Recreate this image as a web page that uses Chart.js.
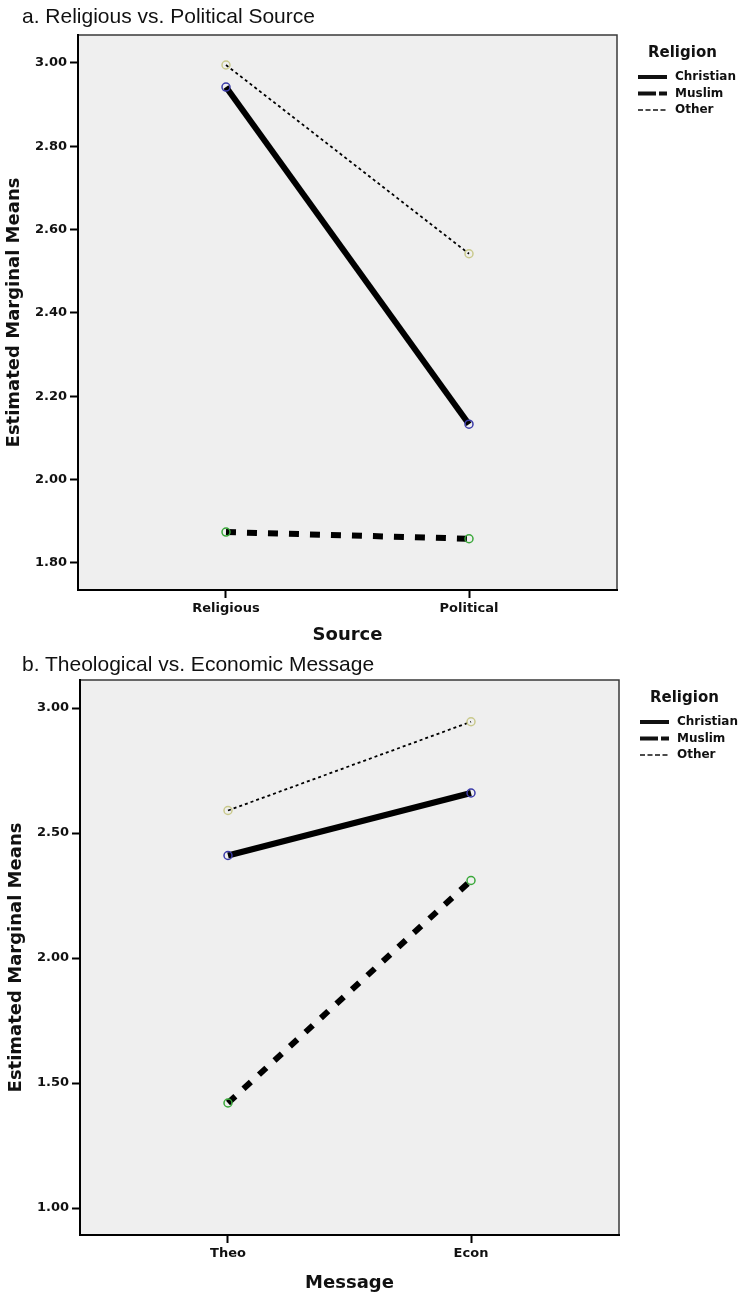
<!DOCTYPE html>
<html>
<head>
<meta charset="utf-8">
<script src="https://cdn.jsdelivr.net/npm/chart.js@4/dist/chart.umd.min.js"></script>
<style>
  body { margin: 0; background: #fff; width: 738px; height: 1297px; position: relative; overflow: hidden; }
  .panel { position: absolute; left: 0; width: 738px; }
  .panel canvas { position: absolute; top: 0; }
  .heading { position: absolute; left: 22px; font-family: "Liberation Sans", Arial, sans-serif; font-size: 21px; color: #111; white-space: nowrap; }
</style>
</head>
<body>
<div class="panel" style="top:0;height:645px">
  <canvas id="chartSource" width="738" height="645" style="left:0"></canvas>
  <div class="heading" style="top:4px">a. Religious vs. Political Source</div>
</div>
<div class="panel" style="top:645px;height:652px">
  <canvas id="chartMessage" width="738" height="652" style="left:2px"></canvas>
  <div class="heading" style="top:7px">b. Theological vs. Economic Message</div>
</div>
<script>
var religions = ["Christian", "Muslim", "Other"];

var sourceCategories = ["Religious", "Political"];
var sourceChristian = [2.942, 2.133];
var sourceMuslim = [1.874, 1.858];
var sourceOther = [2.995, 2.542];
var sourceTicks = [1.8, 2.0, 2.2, 2.4, 2.6, 2.8, 3.0];

var messageCategories = ["Theo", "Econ"];
var messageChristian = [2.41, 2.66];
var messageMuslim = [1.42, 2.31];
var messageOther = [2.59, 2.945];
var messageTicks = [1.0, 1.5, 2.0, 2.5, 3.0];

var tickFont = { family: "'DejaVu Sans'", size: 13, weight: "bold" };

// line look per religion (chart line, legend sample, marker colour)
var lineStyles = {
  Christian: { width: 6, dash: [], legendWidth: 4, legendDash: [], point: "#3b3ba8" },
  Muslim: { width: 6, dash: [10, 11], legendWidth: 4, legendDash: [18, 3], point: "#3aa83a" },
  Other: { width: 1.8, dash: [3, 3], legendWidth: 1.5, legendDash: [5, 2.5], point: "#c9c98c" }
};

var framePlugin = {
  id: "plotFrame",
  beforeDraw: function (chart) {
    var a = chart.chartArea;
    var ctx = chart.ctx;
    ctx.save();
    ctx.fillStyle = "#efefef";
    ctx.fillRect(a.left, a.top, a.right - a.left, a.bottom - a.top);
    ctx.strokeStyle = "#3a3a3a";
    ctx.lineWidth = 1.5;
    ctx.strokeRect(a.left, a.top, a.right - a.left, a.bottom - a.top);
    ctx.restore();
  }
};

var legendPlugin = {
  id: "religionLegend",
  afterDraw: function (chart) {
    var a = chart.chartArea;
    var ctx = chart.ctx;
    var x0 = a.right + 21;
    ctx.save();
    ctx.fillStyle = "#111";
    ctx.strokeStyle = "#111";
    ctx.textAlign = "left";
    ctx.textBaseline = "middle";
    ctx.font = "bold 15px 'DejaVu Sans'";
    ctx.fillText("Religion", a.right + 31, a.top + 18);
    ctx.font = "bold 12px 'DejaVu Sans'";
    chart.data.datasets.forEach(function (ds, i) {
      var style = lineStyles[ds.label];
      var y = a.top + 42 + i * 16.5;
      ctx.beginPath();
      ctx.setLineDash(style.legendDash);
      ctx.lineWidth = style.legendWidth;
      ctx.moveTo(x0, y);
      ctx.lineTo(x0 + 29, y);
      ctx.stroke();
      ctx.setLineDash([]);
      ctx.fillText(ds.label, a.right + 58, y);
    });
    ctx.restore();
  }
};

function buildDatasets(seriesList) {
  return seriesList.map(function (values, i) {
    var name = religions[i];
    var style = lineStyles[name];
    return {
      label: name,
      data: values.map(function (v, k) { return { x: k, y: v }; }),
      borderColor: "#000",
      borderWidth: style.width,
      borderDash: style.dash,
      borderCapStyle: "butt",
      pointRadius: 4,
      pointBorderWidth: 1.5,
      pointBorderColor: style.point,
      pointBackgroundColor: "rgba(0,0,0,0)",
      fill: false,
      tension: 0
    };
  });
}

function renderChart(canvasId, cfg) {
  new Chart(document.getElementById(canvasId), {
    type: "line",
    data: { datasets: buildDatasets(cfg.series) },
    plugins: [framePlugin, legendPlugin],
    options: {
      responsive: false,
      animation: false,
      layout: { padding: { top: 35, right: 121, bottom: 0, left: 0 } },
      plugins: { legend: { display: false }, tooltip: { enabled: false } },
      scales: {
        x: {
          type: "linear",
          min: -0.609,
          max: cfg.categories.length - 1 + 0.609,
          afterBuildTicks: function (scale) {
            scale.ticks = cfg.categories.map(function (c, i) { return { value: i }; });
          },
          afterFit: function (scale) { scale.height = cfg.xAxisHeight; },
          ticks: {
            font: tickFont,
            color: "#111",
            padding: 3,
            maxRotation: 0,
            callback: function (value) { return cfg.categories[value]; }
          },
          grid: { drawOnChartArea: false, drawTicks: true, tickLength: 8, tickColor: "#000", tickWidth: 2 },
          border: { display: true, color: "#000", width: 2 },
          title: {
            display: true,
            text: cfg.xTitle,
            color: "#111",
            font: { family: "'DejaVu Sans'", size: 18, weight: "bold", lineHeight: 1 },
            padding: { top: 0, bottom: cfg.xTitlePad }
          }
        },
        y: {
          min: cfg.yMin,
          max: cfg.yMax,
          afterBuildTicks: function (scale) {
            scale.ticks = cfg.yTicks.map(function (v) { return { value: v }; });
          },
          afterFit: function (scale) { scale.width = 78; },
          ticks: {
            font: tickFont,
            color: "#111",
            padding: 3,
            callback: function (value) { return value.toFixed(2); }
          },
          grid: { drawOnChartArea: false, drawTicks: true, tickLength: 8, tickColor: "#000", tickWidth: 2 },
          border: { display: true, color: "#000", width: 2 },
          title: {
            display: true,
            text: "Estimated Marginal Means",
            color: "#111",
            font: { family: "'DejaVu Sans'", size: 18, weight: "bold" },
            padding: { top: 4, bottom: 0 }
          }
        }
      }
    }
  });
}

renderChart("chartSource", {
  categories: sourceCategories,
  series: [sourceChristian, sourceMuslim, sourceOther],
  yMin: 1.735,
  yMax: 3.067,
  yTicks: sourceTicks,
  xTitle: "Source",
  xAxisHeight: 55,
  xTitlePad: 1
});

renderChart("chartMessage", {
  categories: messageCategories,
  series: [messageChristian, messageMuslim, messageOther],
  yMin: 0.892,
  yMax: 3.112,
  yTicks: messageTicks,
  xTitle: "Message",
  xAxisHeight: 62,
  xTitlePad: 5
});
</script>
</body>
</html>
